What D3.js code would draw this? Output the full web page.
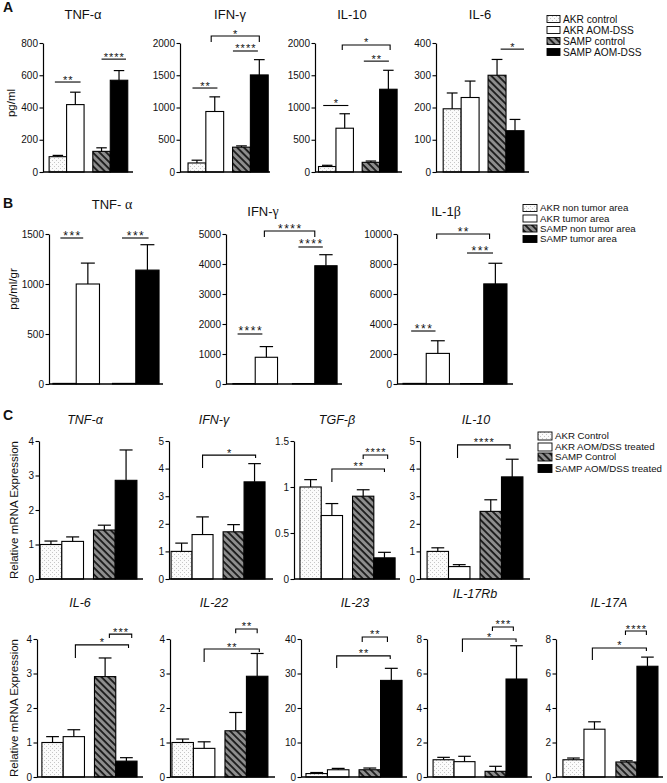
<!DOCTYPE html>
<html><head><meta charset="utf-8">
<script src="https://cdn.jsdelivr.net/npm/d3@7"></script>
<style>
body{margin:0;background:#fff;}
svg{display:block;font-family:"Liberation Sans",Arial,sans-serif;}
</style></head><body>
<svg id="chart" width="667" height="783"></svg>
<script>
// ================= DATA =================
const groupsA = ["AKR control","AKR AOM-DSS","SAMP control","SAMP AOM-DSS"];
const groupsB = ["AKR non tumor area","AKR tumor area","SAMP non tumor area","SAMP tumor area"];
const groupsC = ["AKR Control","AKR AOM/DSS treated","SAMP Control","SAMP AOM/DSS treated"];

// Panel A (pg/ml)
const cytokinesA = ["TNF-α","IFN-γ","IL-10","IL-6"];
const meansA = [[95,418,128,569],[140,938,385,1505],[85,679,150,1283],[196,231,300,128]];
const errTopA = [[103,495,150,629],[183,1165,405,1742],[104,903,170,1577],[245,282,349,163]];
const ticksA = [[0,200,400,600,800],[0,500,1000,1500,2000],[0,500,1000,1500,2000],[0,100,200,300,400]];
const sigA = [
  [{from:-0.17,to:1.2,y:558,label:"**"},{from:2.0,to:3.4,y:700,label:"****"}],
  [{from:-0.25,to:1.1,y:1302,label:"**"},{from:1.68,to:2.92,y:1876,label:"****"},{from:0.8,to:3.0,y:2108,dl:2016,dr:2016,label:"*"}],
  [{from:-0.23,to:1.14,y:1031,label:"*"},{from:1.73,to:3.03,y:1719,label:"**"},{from:0.86,to:3.1,y:1969,dl:1890,dr:1890,label:"*"}],
  [{from:2.2,to:3.5,y:381,label:"*"}]
];

// Panel B (pg/ml/gr)
const cytokinesB = ["TNF- α","IFN-γ","IL-1β"];
const meansB = [[6,1000,6,1139],[15,891,15,3942],[40,2040,30,6674]];
const errTopB = [[6,1209,6,1393],[15,1247,15,4310],[40,2883,30,8049]];
const ticksB = [[0,500,1000,1500],[0,1000,2000,3000,4000,5000],[0,2000,4000,6000,8000,10000]];
const sigB = [
  [{from:-0.18,to:0.8,y:1460,label:"***"},{from:1.94,to:3.05,y:1460,label:"***"}],
  [{from:-0.29,to:0.82,y:1667,label:"****"},{from:1.86,to:2.86,y:4567,label:"****"},{from:0.91,to:2.5,y:5100,dl:4900,dr:4900,label:"****"}],
  [{from:-0.15,to:0.9,y:3533,label:"***"},{from:1.85,to:2.9,y:8733,label:"***"},{from:0.95,to:2.75,y:10000,dl:9667,dr:9667,label:"**"}]
];

// Panel C, row 1 (relative mRNA expression)
const genesC1 = ["TNF-α","IFN-γ","TGF-β","IL-10"];
const meansC1 = [[1.0,1.09,1.42,2.86],[1.0,1.61,1.71,3.52],[1.0,0.69,0.90,0.23],[1.0,0.45,2.45,3.70]];
const errTopC1 = [[1.1,1.22,1.56,3.74],[1.3,2.25,1.97,4.18],[1.08,0.82,0.97,0.29],[1.13,0.52,2.87,4.34]];
const ticksC1 = [[0,1,2,3,4],[0,1,2,3,4,5],[0,0.5,1,1.5],[0,1,2,3,4,5]];
const sigC1 = [
  [],
  [{from:1,to:3.05,y:4.49,dl:4.02,dr:4.38,label:"*"}],
  [{from:1,to:3,y:1.196,dl:1.054,dr:1.163,label:"**"},{from:2,to:3.15,y:1.348,dl:1.304,dr:1.304,label:"****"}],
  [{from:0.92,to:2.9,y:4.86,dl:4.38,dr:4.71,label:"****"}]
];

// Panel C, row 2
const genesC2 = ["IL-6","IL-22","IL-23","IL-17Rb","IL-17A"];
const meansC2 = [[1.0,1.17,2.91,0.46],[1.0,0.83,1.34,2.92],[1.0,2.1,2.1,28.0],[1.0,0.89,0.33,5.68],[1.0,2.77,0.87,6.42]];
const errTopC2 = [[1.17,1.37,3.45,0.56],[1.1,1.02,1.87,3.58],[1.3,2.5,2.6,31.5],[1.14,1.2,0.62,7.61],[1.1,3.2,0.94,6.95]];
const ticksC2 = [[0,1,2,3,4],[0,1,2,3,4],[0,10,20,30,40],[0,2,4,6,8],[0,2,4,6,8]];
const sigC2 = [
  [{from:1.05,to:3.1,y:3.83,dl:3.45,dr:3.74,label:"*"},{from:2.2,to:3.25,y:4.14,dl:4.03,dr:4.03,label:"***"}],
  [{from:1,to:3.1,y:3.71,dl:3.33,dr:3.62,label:"**"},{from:2,to:3,y:4.29,dl:4.17,dr:4.17,label:"**"}],
  [{from:0.93,to:2.95,y:35.1,dl:31.6,dr:34.2,label:"**"},{from:1.76,to:2.82,y:40.6,dl:39.1,dr:39.1,label:"**"}],
  [{from:0.9,to:2.98,y:8.0,dl:7.25,dr:7.83,label:"*"},{from:1.9,to:2.85,y:8.7,dl:8.46,dr:8.46,label:"***"}],
  [{from:0.9,to:2.95,y:7.48,dl:6.78,dr:7.30,label:"*"},{from:1.97,to:2.95,y:8.46,dl:8.23,dr:8.23,label:"****"}]
];

// ================= LAYOUT =================
const layoutA = {yTop:43, yBot:172, titleSize:13, italic:false, greekSerif:false, starSize:11, starSpace:1,
  plots:[{x0:43,x1:133,pl:.35,pr:.3,g:.5,tx:83,ty:19},{x0:180,x1:270,pl:.45,pr:.1,g:.5,tx:230,ty:19},
         {x0:315,x1:402,pl:.2,pr:.28,g:.5,tx:352,ty:19},{x0:436,x1:529,pl:.4,pr:.28,g:.5,tx:480,ty:19}]};
const layoutB = {yTop:234, yBot:384, titleSize:13, italic:false, greekSerif:true, starSize:12, starSpace:1.5,
  plots:[{x0:49,x1:163,pl:.17,pr:.17,g:.56,tx:112,ty:209},{x0:226,x1:342,pl:.31,pr:.22,g:.67,tx:263,ty:216},
         {x0:397,x1:513,pl:.26,pr:.26,g:.48,tx:446,ty:216}]};
const layoutC1 = {yTop:441, yBot:579, titleSize:12.5, italic:true, greekSerif:false, starSize:11, starSpace:1,
  plots:[{x0:39,x1:143,pl:.05,pr:.28,g:.46,tx:85,ty:424},{x0:169,x1:273,pl:.1,pr:.38,g:.48,tx:214,ty:424},
         {x0:294,x1:400,pl:.28,pr:.23,g:.47,tx:337,ty:424},{x0:420,x1:530,pl:.33,pr:.33,g:.47,tx:476,ty:424}]};
const layoutC2 = {yTop:639, yBot:777, titleSize:12.5, italic:true, greekSerif:false, starSize:11, starSpace:1,
  plots:[{x0:37,x1:143,pl:.23,pr:.28,g:.47,tx:80,ty:607},{x0:170,x1:275,pl:.09,pr:.33,g:.47,tx:214,ty:607},
         {x0:301,x1:407,pl:.23,pr:.23,g:.47,tx:355,ty:607},{x0:427,x1:532,pl:.29,pr:.24,g:.48,tx:475,ty:598},
         {x0:556,x1:663,pl:.33,pr:.24,g:.52,tx:609,ty:607}]};

// ================= DRAW =================
const svg = d3.select("#chart");
const defs = svg.append("defs");
const pd = defs.append("pattern").attr("id","pDots").attr("patternUnits","userSpaceOnUse").attr("width",4).attr("height",4);
pd.append("rect").attr("width",4).attr("height",4).attr("fill","#fbfbfb");
pd.append("rect").attr("x",0).attr("y",0).attr("width",1).attr("height",1).attr("fill","#c6c6c6");
pd.append("rect").attr("x",2).attr("y",2).attr("width",1).attr("height",1).attr("fill","#c6c6c6");
const ph = defs.append("pattern").attr("id","pHatch").attr("patternUnits","userSpaceOnUse")
  .attr("width",4.8).attr("height",4.8).attr("patternTransform","rotate(-45)");
ph.append("rect").attr("width",4.8).attr("height",4.8).attr("fill","#8e8e8e");
ph.append("line").attr("x1",1).attr("y1",-1).attr("x2",1).attr("y2",6).attr("stroke","#111").attr("stroke-width",1.7);
const fills = ["url(#pDots)","#ffffff","url(#pHatch)","#000000"];

function addTitle(g, text, x, y, L) {
  const t = g.append("text").attr("x",x).attr("y",y).attr("text-anchor","middle")
    .attr("font-size",L.titleSize).attr("fill","#111")
    .attr("font-style", L.italic ? "italic" : "normal");
  const parts = text.match(/[α-ω]+|[^α-ω]+/g);
  parts.forEach(p => {
    const ts = t.append("tspan").text(p);
    if (L.greekSerif && /[α-ω]/.test(p)) ts.attr("font-family","'Liberation Serif','DejaVu Serif',serif").attr("font-size",L.titleSize+1);
  });
}

function drawPanel(names, means, errs, ticks, sigs, L) {
  names.forEach((name, k) => {
    const P = L.plots[k];
    const g = svg.append("g");
    const yMax = ticks[k][ticks[k].length - 1];
    const y = d3.scaleLinear().domain([0, yMax]).range([L.yBot, L.yTop]);
    const units = P.pl + 4 + P.g + P.pr;
    const x = d3.scaleLinear().domain([0, units]).range([P.x0, P.x1]);
    const start = i => P.pl + i + (i >= 2 ? P.g : 0);
    const bw = x(1) - x(0);
    const center = i => x(start(i) + 0.5);
    const pos = kk => { const i = Math.max(0, Math.min(2, Math.floor(kk))); return center(i) + (kk - i) * (center(i+1) - center(i)); };

    g.selectAll("rect.bar").data(means[k]).join("rect").attr("class","bar")
      .attr("x",(d,i)=>x(start(i))).attr("width",bw)
      .attr("y",d=>y(d)).attr("height",d=>L.yBot - y(d))
      .attr("fill",(d,i)=>fills[i]).attr("stroke","#000").attr("stroke-width",1.1);
    const eb = means[k].map((m,i)=>({m, e:errs[k][i], i})).filter(d=>d.e > d.m);
    g.selectAll("line.ev").data(eb).join("line").attr("class","ev")
      .attr("x1",d=>center(d.i)).attr("x2",d=>center(d.i))
      .attr("y1",d=>y(d.m)).attr("y2",d=>y(d.e)).attr("stroke","#000").attr("stroke-width",1.2);
    g.selectAll("line.ec").data(eb).join("line").attr("class","ec")
      .attr("x1",d=>center(d.i) - bw*0.3).attr("x2",d=>center(d.i) + bw*0.3)
      .attr("y1",d=>y(d.e)).attr("y2",d=>y(d.e)).attr("stroke","#000").attr("stroke-width",1.2);

    const ax = g.append("g").attr("transform",`translate(${P.x0},0)`)
      .call(d3.axisLeft(y).tickValues(ticks[k]).tickSize(3.5).tickSizeOuter(0).tickPadding(1.5).tickFormat(d=>String(d)));
    ax.select(".domain").attr("stroke","#000").attr("stroke-width",1.2);
    ax.selectAll(".tick line").attr("stroke","#000").attr("stroke-width",1.1);
    ax.selectAll(".tick text").attr("font-size",10).attr("fill","#111").attr("font-family","'Liberation Sans',Arial,sans-serif");
    g.append("line").attr("x1",P.x0).attr("x2",P.x1).attr("y1",L.yBot).attr("y2",L.yBot)
      .attr("stroke","#000").attr("stroke-width",1.3);

    sigs[k].forEach(s => {
      const xa = pos(s.from), xb = pos(s.to), yy = y(s.y);
      if (s.dl !== undefined) {
        g.append("path").attr("d",`M${xa},${y(s.dl)}V${yy}H${xb}V${y(s.dr)}`)
          .attr("fill","none").attr("stroke","#000").attr("stroke-width",1.1);
      } else {
        g.append("line").attr("x1",xa).attr("x2",xb).attr("y1",yy).attr("y2",yy)
          .attr("stroke","#000").attr("stroke-width",1.1);
      }
      g.append("text").attr("x",(xa+xb)/2 + L.starSpace/2).attr("y",yy + 1.5).attr("text-anchor","middle")
        .attr("font-size",L.starSize).attr("letter-spacing",L.starSpace).attr("fill","#111").text(s.label);
    });

    addTitle(g, name, P.tx, P.ty, L);
  });
}

drawPanel(cytokinesA, meansA, errTopA, ticksA, sigA, layoutA);
drawPanel(cytokinesB, meansB, errTopB, ticksB, sigB, layoutB);
drawPanel(genesC1, meansC1, errTopC1, ticksC1, sigC1, layoutC1);
drawPanel(genesC2, meansC2, errTopC2, ticksC2, sigC2, layoutC2);

function legend(groups, x, ys, size, sw, sh) {
  const g = svg.append("g");
  groups.forEach((name, i) => {
    g.append("rect").attr("x",x).attr("y",ys[i]-sh/2).attr("width",sw).attr("height",sh)
      .attr("fill",fills[i]).attr("stroke","#000").attr("stroke-width",0.9);
    g.append("text").attr("x",x+sw+3).attr("y",ys[i]).attr("dy","0.36em")
      .attr("font-size",size).attr("fill","#111").text(name);
  });
}
legend(groupsA, 547, [19,30,41,52], 10.2, 13, 7);
legend(groupsB, 523, [208,218.5,228.5,239], 9.7, 14, 7);
legend(groupsC, 538, [436,447,457,468.5], 9.7, 14, 8);

function ylab(text, x, y) {
  svg.append("text").attr("transform",`translate(${x},${y}) rotate(-90)`).attr("text-anchor","middle")
    .attr("font-size",11.5).attr("fill","#111").text(text);
}
ylab("pg/ml", 15, 103);
ylab("pg/ml/gr", 16.5, 289);
ylab("Relative mRNA Expression", 18, 510);
ylab("Relative mRNA Expression", 18, 708);

[["A",3,12],["B",3,208],["C",3,420]].forEach(([t,x,y]) =>
  svg.append("text").attr("x",x).attr("y",y).attr("font-size",14).attr("font-weight","bold").attr("fill","#111").text(t));
</script>
</body></html>
